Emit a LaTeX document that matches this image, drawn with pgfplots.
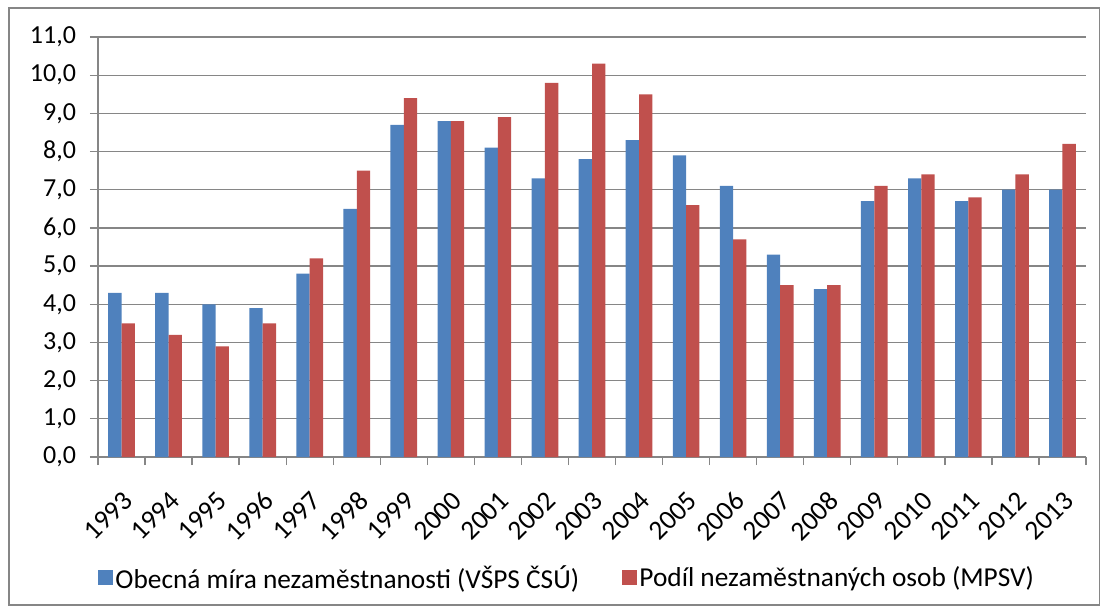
\documentclass[border=0pt]{standalone}
\usepackage{pgfplots}
\pgfplotsset{compat=1.18}
\usepackage{fontspec}
\setmainfont{Carlito}
\definecolor{sblue}{HTML}{4F81BD}
\definecolor{sred}{HTML}{C0504D}
\definecolor{gridgray}{HTML}{868686}
\begin{document}
\begin{tikzpicture}
\useasboundingbox (-73.5pt,-116.25pt) rectangle (754.5pt,342.75pt);
\draw[gridgray, line width=1.1pt] (-66.75pt,-111pt) rectangle (751pt,336.75pt);
\begin{axis}[
  at={(0pt,0pt)}, anchor=south west,
  width=741pt, height=315pt, scale only axis,
  ybar=0pt, bar width=10pt,
  ymin=0, ymax=11, ytick={0,1,...,11},
  xmin=-0.5, xmax=20.5,
  xtick={0,1,...,20},
  xticklabels={1993,1994,1995,1996,1997,1998,1999,2000,2001,2002,2003,2004,2005,2006,2007,2008,2009,2010,2011,2012,2013},
  minor xtick={-0.5,0.5,...,20.5},
  major x tick style={draw=none},
  tick align=outside,
  major tick length=6pt, minor tick length=6pt,
  axis x line*=bottom, axis y line*=left,
  axis line style={gridgray, line width=1pt},
  every tick/.style={gridgray, line width=1pt},
  minor tick style={gridgray, line width=1pt},
  ymajorgrids, grid style={gridgray, line width=1pt},
  /pgf/number format/assume math mode=true,
  yticklabel={\pgfmathprintnumber[fixed,fixed zerofill,precision=1,use comma,assume math mode=true]{\tick}\kern7pt},
  yticklabel style={font=\fontsize{19.5}{23}\selectfont, anchor=east},
  xticklabel style={rotate=45, anchor=north east, font=\fontsize{20.5}{24}\selectfont, inner sep=1pt},
  xticklabel shift=17pt,
  legend style={at={(0.475,-0.288)}, anchor=center, draw=none, legend columns=2,
    font=\fontsize{20.5}{24}\selectfont,
    /tikz/every even column/.append style={column sep=30pt}},
  legend image code/.code={\fill[#1] (0pt,-5.6pt) rectangle (11.2pt,5.6pt);},
]
\addplot[fill=sblue, draw=none] coordinates {
(0,4.3) (1,4.3) (2,4.0) (3,3.9) (4,4.8) (5,6.5) (6,8.7) (7,8.8) (8,8.1) (9,7.3) (10,7.8)
(11,8.3) (12,7.9) (13,7.1) (14,5.3) (15,4.4) (16,6.7) (17,7.3) (18,6.7) (19,7.0) (20,7.0)};
\addplot[fill=sred, draw=none] coordinates {
(0,3.5) (1,3.2) (2,2.9) (3,3.5) (4,5.2) (5,7.5) (6,9.4) (7,8.8) (8,8.9) (9,9.8) (10,10.3)
(11,9.5) (12,6.6) (13,5.7) (14,4.5) (15,4.5) (16,7.1) (17,7.4) (18,6.8) (19,7.4) (20,8.2)};
\legend{Obecná míra nezaměstnanosti (VŠPS ČSÚ), Podíl nezaměstnaných osob (MPSV)}
\end{axis}
\end{tikzpicture}
\end{document}
